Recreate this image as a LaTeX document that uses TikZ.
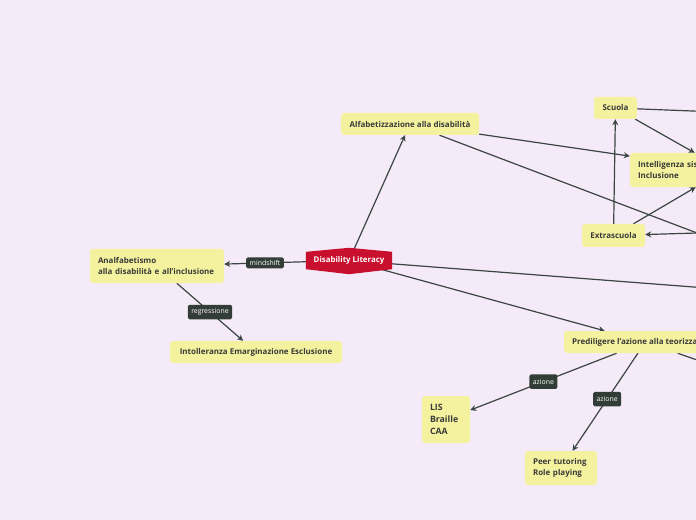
\documentclass[tikz,border=0pt]{standalone}
\usepackage{fontspec}
\setmainfont{Open Sans}
\usetikzlibrary{arrows.meta,backgrounds}
\definecolor{bgc}{HTML}{F5EBF8}
\definecolor{boxc}{HTML}{F4F29E}
\definecolor{txtc}{HTML}{3A3A3A}
\definecolor{redc}{HTML}{C8102E}
\definecolor{lblc}{HTML}{333D37}
\definecolor{linec}{HTML}{3B4541}
\begin{document}
\begin{tikzpicture}[x=1bp,y=-1bp,
  box/.style={fill=boxc, rounded corners=3bp, text=txtc, font=\fontsize{8}{11}\selectfont\bfseries, inner xsep=8bp, inner ysep=0pt, minimum height=22bp},
  dlnode/.style={text=white, font=\fontsize{7.9}{9}\selectfont\bfseries, inner sep=0pt},
  lbl/.style={fill=lblc, rounded corners=1.5bp, text=white, font=\fontsize{6.9}{8}\selectfont, inner xsep=3.5bp, inner ysep=0pt, minimum height=14.5bp},
  edge/.style={draw=linec, line width=1.2bp},
  arr/.style={edge, -{Stealth[length=6bp,width=6bp]}}]
\useasboundingbox (0,0) rectangle (696,520);
% nodes
\node[box, minimum width=138bp] (alfa) at (410,124) {Alfabetizzazione alla disabilità};
\node[box, minimum width=43bp] (scuola) at (615.5,108) {Scuola};
\node[box, text width=174bp, align=left, minimum height=34bp] (intel) at (725,170) {Intelligenza sistemica\\Inclusione};
\node[box, minimum width=63bp, minimum height=23bp] (extra) at (613.5,235.5) {Extrascuola};
\node[box, anchor=west] (pred) at (564,342) {Prediligere l'azione alla teorizzazione};
\node[box, text width=118bp, align=left, minimum height=34bp] (analf) at (157,266) {Analfabetismo\\alla disabilità e all'inclusione};
\node[box, minimum width=172bp] (intol) at (256,352) {Intolleranza Emarginazione Esclusione};
\node[box, text width=32bp, align=left, minimum height=47bp, font=\fontsize{8.8}{12}\selectfont\bfseries] (lis) at (446,419.5) {LIS\\Braille\\CAA};
\node[box, text width=56bp, align=left, minimum height=34bp] (peer) at (561,468) {Peer tutoring\\Role playing};
\node[dlnode, minimum width=86bp, minimum height=17bp] (dl) at (349,260.5) {Disability Literacy};
% free ends of connectors to nodes outside the view
\coordinate (xr) at (697,233);
\coordinate (sr) at (700,111.3);
\coordinate (dr) at (700,287.5);
\coordinate (pr) at (700,361);
\begin{scope}[on background layer]
\fill[bgc] (0,0) rectangle (696,520);
\draw[arr] (dl) -- (alfa);
\draw[arr] (alfa) -- (intel);
\draw[edge] (alfa) -- (xr);
\draw[edge] (scuola) -- (sr);
\draw[arr] (scuola) -- (intel);
\draw[arr] (extra) -- (scuola);
\draw[arr] (extra) -- (intel);
\draw[arr] (xr) -- (extra);
\draw[edge] (dl) -- (dr);
\draw[arr] (dl) -- (pred);
\draw[edge] (pred) -- (pr);
\draw[arr] (pred) -- node[lbl]{azione} (lis);
\draw[arr] (pred) -- node[lbl,pos=0.47]{azione} (peer);
\draw[arr] (dl) -- node[lbl, minimum height=11bp]{mindshift} (analf);
\draw[arr] (analf) -- node[lbl]{regressione} (intol);
\fill[redc] (dl.north west) -- ([yshift=4bp]dl.north) -- (dl.north east) -- (dl.south east) -- ([yshift=-5bp]dl.south) -- (dl.south west) -- cycle;
\end{scope}
\end{tikzpicture}
\end{document}
